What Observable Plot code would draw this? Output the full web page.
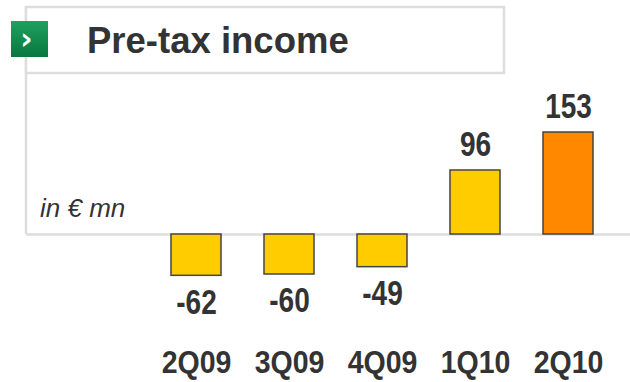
<!DOCTYPE html>
<html>
<head>
<meta charset="utf-8">
<script src="https://cdn.jsdelivr.net/npm/d3@7"></script>
<script src="https://cdn.jsdelivr.net/npm/@observablehq/plot@0.6"></script>
<style>
  html, body { margin: 0; padding: 0; background: #fff; }
  #chart { width: 630px; height: 382px; }
</style>
</head>
<body>
<div id="chart"></div>
<script>
const title = "Pre-tax income";
const unitLabel = "in € mn";
const quarters = ["2Q09", "3Q09", "4Q09", "1Q10", "2Q10"];
const values = [-62, -60, -49, 96, 153];
const highlight = [false, false, false, false, true];

const data = quarters.map((q, i) => ({q, v: values[i], hi: highlight[i]}));
const sans = "'Liberation Sans', Arial, sans-serif";

const plot = Plot.plot({
  width: 630,
  height: 382,
  marginLeft: 26,
  marginRight: 0,
  marginTop: 90,
  marginBottom: 32,
  style: {fontFamily: sans, color: "#333", background: "white", overflow: "visible"},
  x: {domain: quarters, range: [126.4, 638], padding: 0.466, axis: null},
  y: {domain: [-100, 200], range: [300.67, 100.67], axis: null},
  marks: [
    Plot.ruleY([0], {stroke: "#dddddd", strokeWidth: 2.5}),
    Plot.barY(data, {
      x: "q", y: "v",
      fill: d => d.hi ? "#ff8800" : "#ffcc00",
      stroke: "#444", strokeWidth: 1.5
    }),
    Plot.text(data.filter(d => d.v >= 0), {
      x: "q", y: "v", text: d => String(d.v),
      lineAnchor: "bottom", dy: -15,
      fontSize: 35, fontWeight: "bold", fill: "#333"
    }),
    Plot.text(data.filter(d => d.v < 0), {
      x: "q", y: "v", text: d => String(d.v),
      lineAnchor: "top", dy: 13,
      fontSize: 35, fontWeight: "bold", fill: "#333"
    }),
    Plot.axisX({
      tickSize: 0, tickPadding: 0, fontSize: 32, fontWeight: "bold",
      fill: "#333", label: null
    })
  ]
});

document.getElementById("chart").appendChild(plot);

const svg = d3.select(plot);

// Condense the bold labels horizontally (reference uses a narrow face)
svg.selectAll("g[aria-label='text'] text").each(function() {
  const t = this.getAttribute("transform") || "";
  this.setAttribute("transform", t + " scale(0.8,1)");
});
svg.selectAll("g[aria-label='x-axis tick label'] text").each(function() {
  const t = this.getAttribute("transform") || "";
  this.setAttribute("transform", t + " scale(0.89,1)");
});

// Decorations: title box, left rule, green marker, unit label
const deco = svg.insert("g", ":first-child");
const defs = svg.append("defs");
const grad = defs.append("linearGradient").attr("id", "gr").attr("x1", 0).attr("y1", 0).attr("x2", 0).attr("y2", 1);
grad.append("stop").attr("offset", "0%").attr("stop-color", "#1fa060");
grad.append("stop").attr("offset", "100%").attr("stop-color", "#08773f");

deco.append("line").attr("x1", 26).attr("x2", 26).attr("y1", 7).attr("y2", 234)
  .attr("stroke", "#dddddd").attr("stroke-width", 2.5);
deco.append("rect").attr("x", 26).attr("y", 7).attr("width", 478).attr("height", 66)
  .attr("fill", "white").attr("stroke", "#dddddd").attr("stroke-width", 2.5);

const layer = svg.append("g").attr("text-anchor", "start");
layer.append("rect").attr("x", 11).attr("y", 21).attr("width", 37).attr("height", 36)
  .attr("fill", "url(#gr)");
layer.append("text").attr("x", 26.5).attr("y", 49).attr("text-anchor", "middle")
  .attr("fill", "white").attr("font-family", "'DejaVu Sans', sans-serif")
  .attr("font-weight", "bold").attr("font-size", 30).text("›");
layer.append("text").attr("x", 87).attr("y", 53).attr("text-anchor", "start")
  .attr("fill", "#333").attr("font-family", sans)
  .attr("font-weight", "bold").attr("font-size", 36.5).text(title);
layer.append("text").attr("x", 40).attr("y", 217).attr("text-anchor", "start")
  .attr("fill", "#333").attr("font-family", sans)
  .attr("font-style", "italic").attr("font-size", 26).text(unitLabel);
</script>
</body>
</html>
